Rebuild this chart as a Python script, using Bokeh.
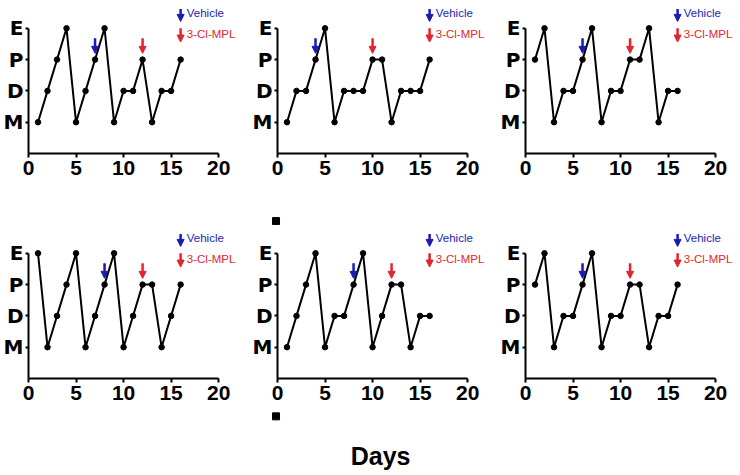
from bokeh.plotting import figure
from bokeh.layouts import row, column
from bokeh.models import Range1d, FixedTicker, Arrow, NormalHead, Spacer
from bokeh.embed import file_html
from bokeh.resources import INLINE
from bokeh.core.properties import value

# ---------------- data ----------------
days = list(range(1, 17))
stage_names = ["M", "D", "P", "E"]
stage_levels = [1, 2, 3, 4]
x_ticks = [0, 5, 10, 15, 20]

panel_1 = ["M", "D", "P", "E", "M", "D", "P", "E", "M", "D", "D", "P", "M", "D", "D", "P"]
panel_2 = ["M", "D", "D", "P", "E", "M", "D", "D", "D", "P", "P", "M", "D", "D", "D", "P"]
panel_3 = ["P", "E", "M", "D", "D", "P", "E", "M", "D", "D", "P", "P", "E", "M", "D", "D"]
panel_4 = ["E", "M", "D", "P", "E", "M", "D", "P", "E", "M", "D", "P", "P", "M", "D", "P"]
panel_5 = ["M", "D", "P", "E", "M", "D", "D", "P", "E", "M", "D", "P", "P", "M", "D", "D"]
panel_6 = ["P", "E", "M", "D", "D", "P", "E", "M", "D", "D", "P", "P", "M", "D", "D", "P"]

vehicle_days = [7, 4, 6, 8, 8, 6]
clmpl_days = [12, 10, 11, 12, 12, 11]
legend_labels = ["Vehicle", "3-Cl-MPL"]
legend_day = 16
x_label = "Days"

# stray square marks (in middle-column day / stage units)
upper_square = (-0.05, -2.16)
lower_square = (-0.05, -1.21)
days_label_pos = (10.9, -2.49)

# ---------------- style ----------------
BLUE = "#1a1ab4"
RED = "#e3242b"
XPX = 9.55          # pixels per day
YPX = 31.3          # pixels per stage
FRAME_H = 153
BORDER_L = 27
MID_AXIS_X = 276    # pixel position of middle column y-axis
level_of = dict(zip(stage_names, stage_levels))


def make_panel(series, veh, red, width, height):
    frame_w = width - BORDER_L
    p = figure(width=width, height=height, output_backend="svg", toolbar_location=None,
               x_range=Range1d(0, frame_w / XPX), y_range=Range1d(0, FRAME_H / YPX),
               min_border_left=BORDER_L, min_border_right=0, min_border_top=0,
               min_border_bottom=height - FRAME_H)
    p.outline_line_color = None
    p.background_fill_color = "white"
    p.border_fill_color = "white"
    p.xgrid.visible = False
    p.ygrid.visible = False

    xa = p.xaxis[0]
    xa.bounds = (0, 20)
    xa.ticker = FixedTicker(ticks=x_ticks)
    xa.minor_tick_line_color = None
    xa.major_tick_out = 4
    xa.major_tick_in = 0
    xa.major_tick_line_width = 2
    xa.axis_line_width = 2
    xa.major_label_standoff = 3
    xa.major_label_text_font = "Liberation Sans"
    xa.major_label_text_font_style = "bold"
    xa.major_label_text_font_size = "21px"
    xa.major_label_text_color = "black"

    ya = p.yaxis[0]
    ya.bounds = (0, 4)
    ya.ticker = FixedTicker(ticks=stage_levels)
    ya.major_label_overrides = {lv: nm for lv, nm in zip(stage_levels, stage_names)}
    ya.minor_tick_line_color = None
    ya.major_tick_out = 3
    ya.major_tick_in = 0
    ya.major_tick_line_width = 2
    ya.axis_line_width = 2
    ya.major_label_standoff = 2
    ya.major_label_text_font = "DejaVu Sans"
    ya.major_label_text_font_style = "bold"
    ya.major_label_text_font_size = "20px"
    ya.major_label_text_color = "black"

    ys = [level_of[s] for s in series]
    p.line(days, ys, line_color="black", line_width=2)
    p.scatter(days, ys, size=5.5, fill_color="black", line_color="black")

    for d, c in ((veh, BLUE), (red, RED)):
        v = ys[days.index(d)]
        p.add_layout(Arrow(end=NormalHead(size=7, fill_color=c, line_color=c),
                           x_start=d, y_start=v + 0.68, x_end=d, y_end=v + 0.2,
                           line_color=c, line_width=2.5))

    p.add_layout(Arrow(end=NormalHead(size=7, fill_color=BLUE, line_color=BLUE),
                       x_start=legend_day, y_start=4.62, x_end=legend_day, y_end=4.22,
                       line_color=BLUE, line_width=2.5))
    p.add_layout(Arrow(end=NormalHead(size=7, fill_color=RED, line_color=RED),
                       x_start=legend_day, y_start=4.0, x_end=legend_day, y_end=3.56,
                       line_color=RED, line_width=2.5))
    p.text(x=[legend_day + 0.65, legend_day + 0.65], y=[4.49, 3.81], text=legend_labels,
           text_color=[BLUE, RED], text_font=value("Liberation Sans"),
           text_font_size="11.5px", text_align="left", text_baseline="middle")
    return p


def make_strip(height, y_top_px, square, label=None):
    # a full-width strip in the middle column's day / stage coordinates
    y_hi = -(y_top_px) / YPX
    y_lo = -(y_top_px + height) / YPX
    s = figure(width=740, height=height, output_backend="svg", toolbar_location=None,
               x_range=Range1d(-MID_AXIS_X / XPX, (740 - MID_AXIS_X) / XPX),
               y_range=Range1d(y_lo, y_hi),
               x_axis_location=None, y_axis_location=None,
               min_border_left=0, min_border_right=0, min_border_top=0, min_border_bottom=0)
    s.outline_line_color = None
    s.xgrid.visible = False
    s.ygrid.visible = False
    s.scatter([square[0]], [square[1]], marker="square", size=7,
              fill_color="black", line_color="black")
    if label:
        s.text(x=[days_label_pos[0]], y=[days_label_pos[1]], text=[label],
               text_font=value("Liberation Sans"), text_font_style="bold",
               text_font_size="25px", text_color="black",
               text_align="center", text_baseline="middle")
    return s


ROW1_H = 200
ROW2_H = 186
p1 = make_panel(panel_1, vehicle_days[0], clmpl_days[0], 249, ROW1_H)
p2 = make_panel(panel_2, vehicle_days[1], clmpl_days[1], 248, ROW1_H)
p3 = make_panel(panel_3, vehicle_days[2], clmpl_days[2], 243, ROW1_H)
p4 = make_panel(panel_4, vehicle_days[3], clmpl_days[3], 249, ROW2_H)
p5 = make_panel(panel_5, vehicle_days[4], clmpl_days[4], 248, ROW2_H)
p6 = make_panel(panel_6, vehicle_days[5], clmpl_days[5], 243, ROW2_H)

# strip 1 spans pixels 200..225 (below row-1 axis at 153); strip 2 spans 411..475 (row-2 axis at 378)
strip1 = make_strip(25, ROW1_H - FRAME_H, upper_square)
strip2 = make_strip(475 - (225 + ROW2_H), ROW2_H - FRAME_H, lower_square, label=x_label)

layout = column(row(p1, p2, p3), strip1, row(p4, p5, p6), strip2)

open("out.html", "w").write(file_html(layout, INLINE))
